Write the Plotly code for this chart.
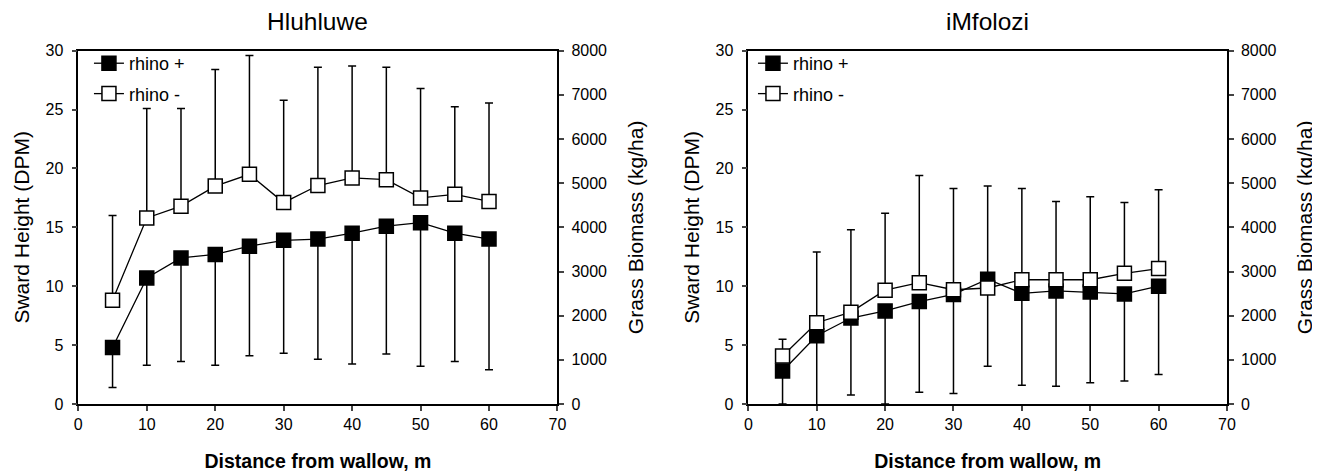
import plotly.graph_objects as go

# distance from wallow (m)
distance = [5, 10, 15, 20, 25, 30, 35, 40, 45, 50, 55, 60]

# Hluhluwe - sward height (DPM), mean and end of error bar
hluh_plus = [4.8, 10.7, 12.4, 12.7, 13.4, 13.9, 14.0, 14.5, 15.1, 15.4, 14.5, 14.0]
hluh_plus_low = [1.4, 3.3, 3.6, 3.3, 4.1, 4.3, 3.8, 3.4, 4.25, 3.2, 3.6, 2.9]
hluh_minus = [8.8, 15.8, 16.8, 18.5, 19.5, 17.1, 18.55, 19.2, 19.05, 17.5, 17.8, 17.2]
hluh_minus_high = [16.0, 25.1, 25.1, 28.4, 29.6, 25.8, 28.6, 28.7, 28.6, 26.8, 25.25, 25.55]

# iMfolozi
imf_plus = [2.8, 5.8, 7.3, 7.9, 8.7, 9.3, 10.6, 9.4, 9.6, 9.5, 9.35, 10.0]
imf_plus_low = [0.0, -0.4, 0.76, 0.0, 1.0, 0.9, 3.2, 1.6, 1.5, 1.8, 1.95, 2.5]
imf_minus = [4.07, 6.9, 7.8, 9.66, 10.3, 9.7, 9.85, 10.55, 10.55, 10.55, 11.1, 11.5]
imf_minus_high = [5.5, 12.9, 14.8, 16.2, 19.4, 18.3, 18.5, 18.3, 17.2, 17.6, 17.1, 18.2]

FONT = "Liberation Sans, Arial, sans-serif"
# page has an 8px body margin, so the figure is a bit smaller than the window
W, H = 1312, 465
x_dom_l = [0.0536, 0.4188]
x_dom_r = [0.5643, 0.9291]
y_dom = [0.1484, 0.9082]

fig = go.Figure()


def add_panel(xa, ya, ya2, legend, plus, plus_low, minus, minus_high):
    fig.add_trace(go.Scatter(
        x=distance, y=plus, name="rhino +", xaxis=xa, yaxis=ya, legend=legend,
        legendgroup="a", mode="lines+markers",
        line=dict(color="black", width=1.3),
        marker=dict(symbol="square", size=14, color="black", line=dict(color="black", width=1.5)),
        error_y=dict(type="data", symmetric=False,
                     array=[0] * len(plus),
                     arrayminus=[p - l for p, l in zip(plus, plus_low)],
                     color="black", thickness=1.5, width=4),
    ))
    fig.add_trace(go.Scatter(
        x=distance, y=minus, name="rhino -", xaxis=xa, yaxis=ya, legend=legend,
        legendgroup="b", mode="lines+markers",
        line=dict(color="black", width=1.3),
        marker=dict(symbol="square", size=14, color="white", line=dict(color="black", width=1.5)),
        error_y=dict(type="data", symmetric=False,
                     array=[h - m for h, m in zip(minus_high, minus)],
                     arrayminus=[0] * len(minus),
                     color="black", thickness=1.5, width=4),
    ))
    # keeps the secondary axis drawn
    fig.add_trace(go.Scatter(x=[None], y=[None], xaxis=xa, yaxis=ya2,
                             showlegend=False, hoverinfo="skip"))


add_panel("x", "y", "y2", "legend", hluh_plus, hluh_plus_low, hluh_minus, hluh_minus_high)
add_panel("x2", "y3", "y4", "legend2", imf_plus, imf_plus_low, imf_minus, imf_minus_high)

xaxis_style = dict(range=[0, 70], dtick=10, ticks="outside", ticklen=5, tickwidth=1.5,
                   showline=True, linecolor="black", linewidth=1.5, mirror=True,
                   showgrid=False, zeroline=False, automargin=False,
                   tickfont=dict(family=FONT, size=16, color="black"),
                   title=dict(text="<b>Distance from wallow, m</b>", standoff=22,
                              font=dict(family=FONT, size=19.5, color="black")))
yaxis_style = dict(range=[0, 30], dtick=5, ticks="outside", ticklen=5, tickwidth=1.5,
                   showline=True, linecolor="black", linewidth=1.5,
                   showgrid=False, zeroline=False, ticklabelstandoff=5, automargin=False,
                   tickfont=dict(family=FONT, size=16, color="black"),
                   title=dict(text="Sward Height (DPM)", standoff=10,
                              font=dict(family=FONT, size=21, color="black")))
y2_style = dict(range=[0, 8000], dtick=1000, ticks="outside", ticklen=5, tickwidth=1.5,
                showline=True, linecolor="black", linewidth=1.5, side="right",
                showgrid=False, zeroline=False, ticklabelstandoff=4, automargin=False,
                tickfont=dict(family=FONT, size=16, color="black"),
                title=dict(text="Grass Biomass (kg/ha)", standoff=22,
                           font=dict(family=FONT, size=21, color="black")))

legend_style = dict(bgcolor="rgba(0,0,0,0)", traceorder="grouped", tracegroupgap=4,
                    itemwidth=30, xanchor="left", yanchor="top",
                    font=dict(family=FONT, size=18, color="black"))

fig.update_layout(
    width=W, height=H,
    margin=dict(l=0, r=0, t=0, b=0, autoexpand=False),
    paper_bgcolor="white", plot_bgcolor="white",
    showlegend=True,
    xaxis=dict(xaxis_style, domain=x_dom_l, anchor="y"),
    yaxis=dict(yaxis_style, domain=y_dom, anchor="x"),
    yaxis2=dict(y2_style, overlaying="y", anchor="x"),
    xaxis2=dict(xaxis_style, domain=x_dom_r, anchor="y3"),
    yaxis3=dict(yaxis_style, domain=y_dom, anchor="x2"),
    yaxis4=dict(y2_style, overlaying="y3", anchor="x2"),
    legend=dict(legend_style, x=0.0617, y=0.9204),
    legend2=dict(legend_style, x=0.5678, y=0.9204),
    annotations=[
        dict(text="Hluhluwe", x=sum(x_dom_l) / 2, y=0.9699, xref="paper", yref="paper",
             xanchor="center", yanchor="middle", showarrow=False,
             font=dict(family=FONT, size=24.5, color="black")),
        dict(text="iMfolozi", x=sum(x_dom_r) / 2, y=0.9699, xref="paper", yref="paper",
             xanchor="center", yanchor="middle", showarrow=False,
             font=dict(family=FONT, size=24.5, color="black")),
    ],
)

fig.write_html("out.html")
